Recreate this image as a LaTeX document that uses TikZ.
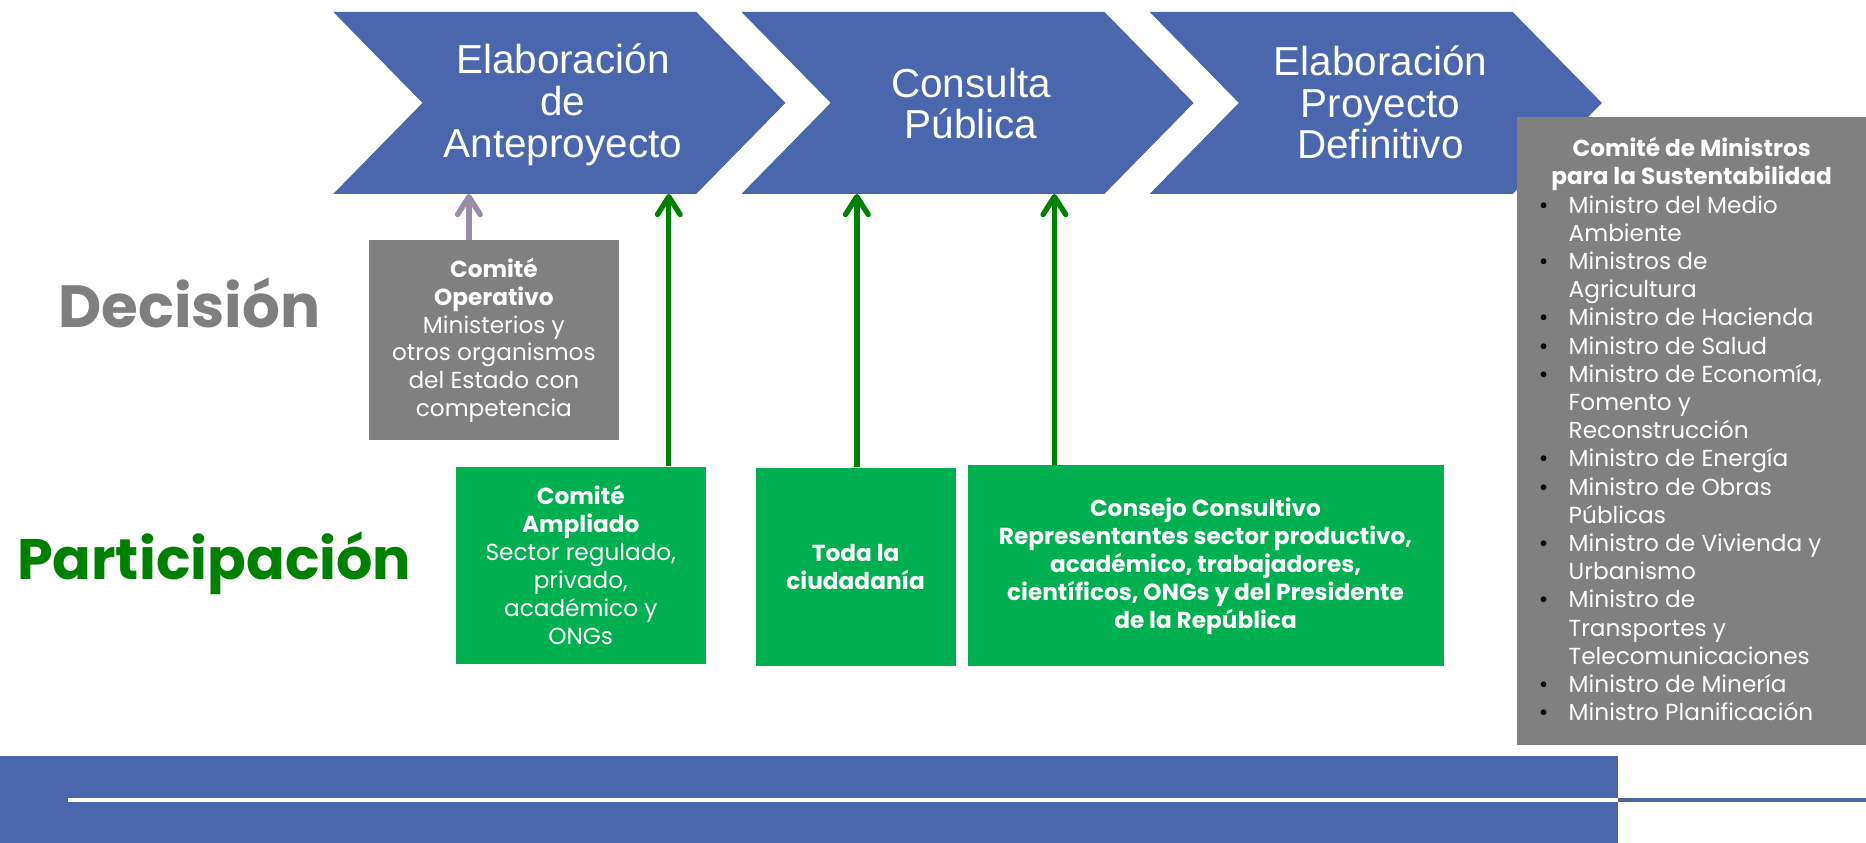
\documentclass[tikz,border=0pt]{standalone}
\usepackage{fontspec}
\setmainfont{Liberation Sans}
\newfontfamily\pop{Poppins}
\usetikzlibrary{arrows.meta}
\definecolor{cblue}{RGB}{74,102,172}
\definecolor{boxgray}{RGB}{128,128,128}
\definecolor{boxgreen}{RGB}{0,176,80}
\definecolor{dgreen}{RGB}{0,128,0}
\definecolor{agray}{RGB}{152,140,166}
\definecolor{lblgray}{RGB}{127,127,127}
\newcommand\itm{\makebox[22pt][l]{\kern-3pt\textcolor{black}{•}}}
\newcommand\cnt{\hspace*{22pt}}
\begin{document}
\begin{tikzpicture}[x=1pt,y=-1pt,
  chevtext/.style={text=white, align=center, inner sep=0pt, font=\fontsize{34}{35}\selectfont},
  boxfont/.style={font=\pop\fontsize{19.5}{23.5}\selectfont},
  graybox/.style={boxfont, fill=boxgray, text=white, align=center, inner sep=0pt},
  greenbox/.style={boxfont, fill=boxgreen, text=white, align=center, inner sep=0pt},
  arr/.style={line width=4.5pt, -{Straight Barb[length=15pt,width=19pt,round]}},
]
\useasboundingbox (0,0) rectangle (1568,708);
% chevrons
\fill[cblue] (280,10) -- (585,10) -- (660,86.5) -- (585,163) -- (280,163) -- (355,86.5) -- cycle;
\fill[cblue] (623,10) -- (928,10) -- (1003,86.5) -- (928,163) -- (623,163) -- (698,86.5) -- cycle;
\fill[cblue] (966,10) -- (1271,10) -- (1346,86.5) -- (1271,163) -- (966,163) -- (1041,86.5) -- cycle;
\node[chevtext] (c1) at (473,88) {Elaboración\\de\\Anteproyecto};
\node[chevtext] (c2) at (816,87) {Consulta\\Pública};
\node[chevtext] (c3) at (1160,86) {Elaboración\\Proyecto\\Definitivo};
% arrow targets on chevron bottoms
\coordinate (a1) at (394,163);
\coordinate (a2) at (562,163);
\coordinate (a3) at (720,163);
\coordinate (a4) at (886,163);
% row labels
\node[anchor=base, inner sep=0pt, text=lblgray, font=\pop\bfseries\fontsize{50}{54}\selectfont] (dec) at (159,275) {Decisión};
\node[anchor=base, inner sep=0pt, text=dgreen, font=\pop\bfseries\fontsize{48}{52}\selectfont] (par) at (180,487) {Participación};
% boxes
\node[graybox, minimum width=210pt, minimum height=168pt] (co) at (415,286)
  {\textbf{Comité}\\\textbf{Operativo}\\Ministerios y\\otros organismos\\del Estado con\\competencia};
\node[greenbox, minimum width=210pt, minimum height=166pt] (ca) at (488,475)
  {\textbf{Comité}\\\textbf{Ampliado}\\Sector regulado,\\privado,\\académico y\\ONGs};
\node[greenbox, minimum width=168pt, minimum height=167pt, font=\pop\bfseries\fontsize{19.5}{23.5}\selectfont] (td) at (719,476.5)
  {Toda la\\ciudadanía};
\node[greenbox, minimum width=400pt, minimum height=169pt, font=\pop\bfseries\fontsize{19.5}{23.5}\selectfont] (cc) at (1013,475.5)
  {Consejo Consultivo\\Representantes sector productivo,\\académico, trabajadores,\\científicos, ONGs y del Presidente\\de la República};
% arrows
\draw[arr, agray] (co.north -| a1) -- (a1);
\draw[arr, dgreen] (ca.north -| a2) -- (a2);
\draw[arr, dgreen] (td.north -| a3) -- (a3);
\draw[arr, dgreen] (cc.north -| a4) -- (a4);
% committee of ministers
\node[fill=boxgray, minimum width=293pt, minimum height=528pt, inner sep=0pt] (cm) at (1421.5,362) {};
\node[boxfont, text=white, align=center, inner sep=0pt, font=\pop\bfseries\fontsize{19.5}{23.5}\selectfont] (cmt) at (1421.5,138)
  {Comité de Ministros\\para la Sustentabilidad};
\node[text=white, align=left, inner sep=0pt, anchor=north west, font=\pop\fontsize{19.5}{23.7}\selectfont] (cml) at (1296,164)
  {\itm Ministro del Medio\\\cnt Ambiente\\\itm Ministros de\\\cnt Agricultura\\\itm Ministro de Hacienda\\\itm Ministro de Salud\\\itm Ministro de Economía,\\\cnt Fomento y\\\cnt Reconstrucción\\\itm Ministro de Energía\\\itm Ministro de Obras\\\cnt Públicas\\\itm Ministro de Vivienda y\\\cnt Urbanismo\\\itm Ministro de\\\cnt Transportes y\\\cnt Telecomunicaciones\\\itm Ministro de Minería\\\itm Ministro Planificación};
% bottom band
\fill[cblue] (0,635) rectangle (1360,708);
\draw[white, line width=3.5pt] (57,672) -- (1360,672);
\draw[cblue, line width=3.5pt] (1360,672) -- (1568,672);
\end{tikzpicture}
\end{document}
